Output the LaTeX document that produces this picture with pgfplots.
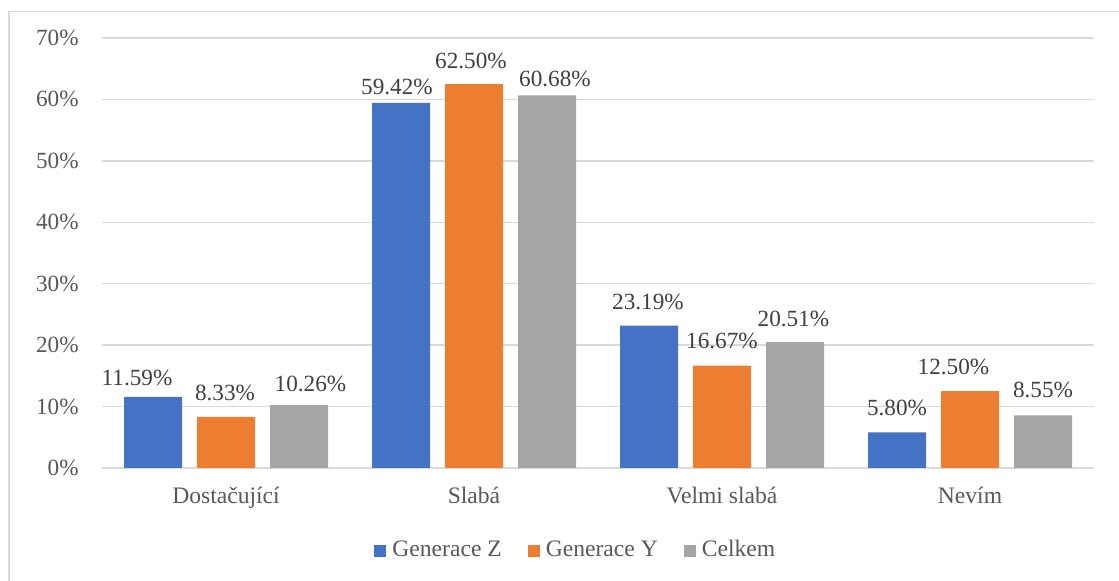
\documentclass[border=0pt]{standalone}
\usepackage{pgfplots}
\usepackage{pgfplotstable}
\pgfplotsset{compat=1.18}
\usepackage{fontspec}
\setmainfont{Liberation Serif}
\definecolor{cz}{HTML}{4472C4}
\definecolor{cy}{HTML}{ED7D31}
\definecolor{cc}{HTML}{A5A5A5}
\definecolor{gridc}{HTML}{D9D9D9}
\definecolor{tickc}{HTML}{595959}
\definecolor{labc}{HTML}{404040}

\pgfplotstableread{
x y dx dy
0 11.59 -8 5.5
1 59.42 -2 4
2 23.19 -0.5 8
3 5.80 0 8.5
}\genz
\pgfplotstableread{
x y dx dy
0 8.33 -0.5 8
1 62.50 -1.5 8
2 16.67 0 8.3
3 12.50 -8.25 8.5
}\geny
\pgfplotstableread{
x y dx dy
0 10.26 5.75 6.5
1 60.68 4 4.5
2 20.51 -0.75 8
3 8.55 0 9
}\celkem

\begin{document}
\begin{tikzpicture}
\useasboundingbox (0,0) rectangle (559.5pt,290.5pt);
\fill[white] (0,0) rectangle (559.5pt,290.5pt);
\draw[gridc, line width=0.7pt] (4.5pt,-5pt) -- (4.5pt,284.75pt) -- (570pt,284.75pt);
\begin{axis}[
  at={(51pt,56.5pt)}, anchor=south west,
  scale only axis,
  width=496pt, height=215pt,
  xmin=-0.5, xmax=3.5,
  ymin=0, ymax=70,
  ybar=7.5pt, bar width=29pt,
  axis line style={draw=none},
  major tick length=0pt,
  ymajorgrids,
  grid style={gridc, line width=0.75pt},
  ytick={0,10,20,30,40,50,60,70},
  yticklabels={0\%,10\%,20\%,30\%,40\%,50\%,60\%,70\%},
  yticklabel style={anchor=east, inner sep=0pt, xshift=-11.5pt, text=tickc, font=\fontsize{11.6}{14}\selectfont},
  xtick={0,1,2,3},
  xticklabels={Dostačující,Slabá,Velmi slabá,Nevím},
  xticklabel style={anchor=base, inner sep=0pt, yshift=-18pt, text=tickc, font=\fontsize{11.8}{14}\selectfont},
  /pgf/number format/assume math mode=true,
  nodes near coords={\pgfmathprintnumber[fixed,fixed zerofill,precision=2]{\pgfplotspointmeta}\%},
  visualization depends on={\thisrow{dx} \as \dx},
  visualization depends on={\thisrow{dy} \as \dy},
  nodes near coords style={anchor=base, inner sep=0pt, xshift=\dx pt, yshift=\dy pt, text=labc, font=\fontsize{11.6}{14}\selectfont},
  legend columns=3,
  legend image code/.code={\fill[#1] (0pt,-3.5pt) rectangle (6pt,2.4pt);},
  legend style={draw=none, fill=none, at={(0.2742,-0.191)}, anchor=west, inner sep=0pt,
    font=\fontsize{11.8}{14}\selectfont, text=tickc,
    nodes={inner sep=0pt},
    /tikz/every odd column/.append style={column sep=3pt},
    /tikz/every even column/.append style={column sep=13pt}},
]
\addplot[fill=cz, draw=none] table[x=x,y=y] {\genz};
\addplot[fill=cy, draw=none] table[x=x,y=y] {\geny};
\addplot[fill=cc, draw=none] table[x=x,y=y] {\celkem};
\legend{Generace Z,Generace Y,Celkem}
\end{axis}
\end{tikzpicture}
\end{document}
